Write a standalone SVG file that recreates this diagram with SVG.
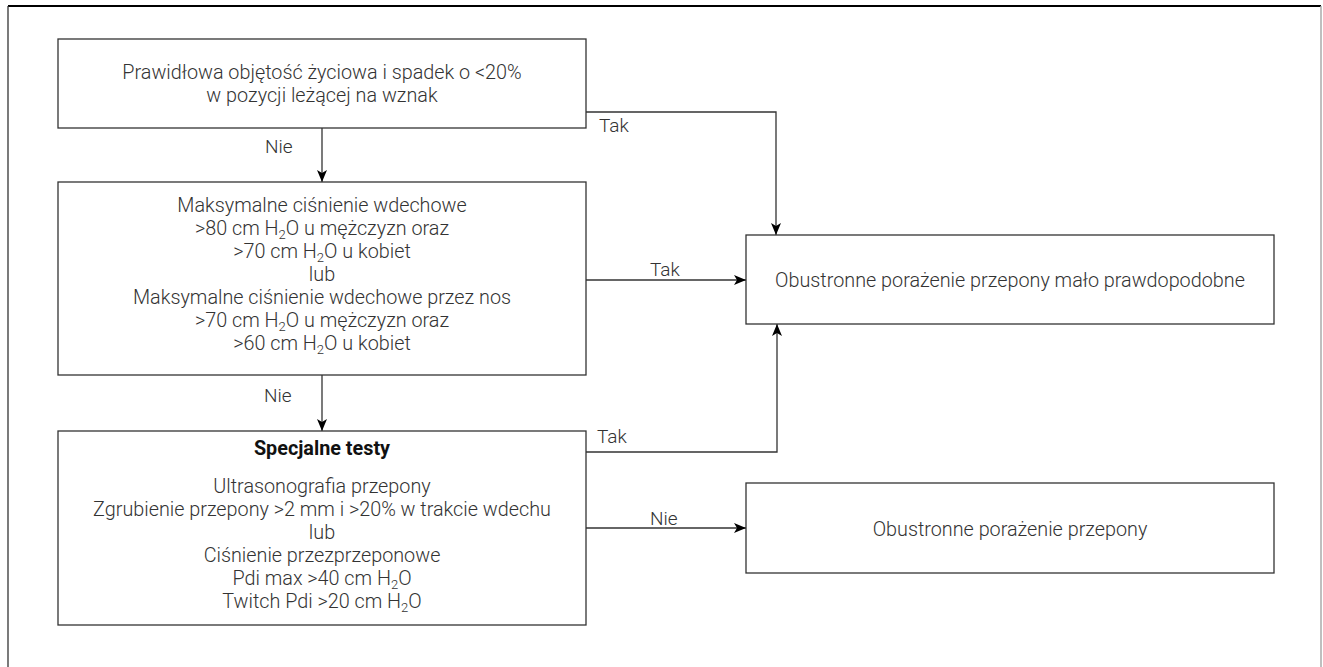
<svg xmlns="http://www.w3.org/2000/svg" width="1323" height="667" viewBox="0 0 1323 667">
  <defs>
    <style>
      .box { fill: #ffffff; stroke: #333333; stroke-width: 1.3; }
      .t { font-family: Roboto, "Liberation Sans", sans-serif; font-weight: 300; font-size: 19.8px; fill: #333333; text-anchor: middle; }
      .lbl { font-family: Roboto, "Liberation Sans", sans-serif; font-weight: 300; font-size: 19px; fill: #333333; }
      .b { font-weight: 700; fill: #111111; }
      .sub { font-size: 13px; }
      .c { fill: none; stroke: #333333; stroke-width: 1.3; }
    </style>
    <marker id="arr" viewBox="0 0 12 10" refX="12" refY="5" markerWidth="12" markerHeight="10" markerUnits="userSpaceOnUse" orient="auto">
      <path d="M0,0 L12,5 L0,10 L3,5 Z" fill="#000000"/>
    </marker>
  </defs>

  <g id="frame">
    <line x1="8" y1="6" x2="1321" y2="6" stroke="#000000" stroke-width="2"/>
    <line x1="8" y1="6" x2="8" y2="667" stroke="#333333" stroke-width="1.3"/>
    <line x1="1321" y1="6" x2="1321" y2="667" stroke="#aaaaaa" stroke-width="1.5"/>
  </g>

  <g id="connectors">
    <line class="c" x1="322" y1="128" x2="322" y2="182" marker-end="url(#arr)"/>
    <text class="lbl" x="265" y="153">Nie</text>
    <polyline class="c" points="586,112 776,112 776,235" marker-end="url(#arr)"/>
    <text class="lbl" x="599" y="132">Tak</text>
    <line class="c" x1="586" y1="280" x2="746" y2="280" marker-end="url(#arr)"/>
    <text class="lbl" x="650" y="276">Tak</text>
    <line class="c" x1="322" y1="375" x2="322" y2="431" marker-end="url(#arr)"/>
    <text class="lbl" x="264" y="402">Nie</text>
    <polyline class="c" points="586,452 777,452 777,324" marker-end="url(#arr)"/>
    <text class="lbl" x="597" y="443">Tak</text>
    <line class="c" x1="586" y1="528" x2="746" y2="528" marker-end="url(#arr)"/>
    <text class="lbl" x="650" y="525">Nie</text>
  </g>

  <g id="n1">
    <rect class="box" x="58" y="39" width="528" height="89"/>
    <text class="t" x="322" y="79">Prawidłowa objętość życiowa i spadek o &lt;20%</text>
    <text class="t" x="322" y="102">w pozycji leżącej na wznak</text>
  </g>

  <g id="n2">
    <rect class="box" x="58" y="182" width="528" height="193"/>
    <text class="t" x="322" y="212">Maksymalne ciśnienie wdechowe</text>
    <text class="t" x="322" y="235">&gt;80 cm H<tspan class="sub" dy="4">2</tspan><tspan dy="-4">O u mężczyzn oraz</tspan></text>
    <text class="t" x="322" y="258">&gt;70 cm H<tspan class="sub" dy="4">2</tspan><tspan dy="-4">O u kobiet</tspan></text>
    <text class="t" x="322" y="281">lub</text>
    <text class="t" x="322" y="304">Maksymalne ciśnienie wdechowe przez nos</text>
    <text class="t" x="322" y="327">&gt;70 cm H<tspan class="sub" dy="4">2</tspan><tspan dy="-4">O u mężczyzn oraz</tspan></text>
    <text class="t" x="322" y="350">&gt;60 cm H<tspan class="sub" dy="4">2</tspan><tspan dy="-4">O u kobiet</tspan></text>
  </g>

  <g id="n3">
    <rect class="box" x="58" y="431" width="528" height="194"/>
    <text class="t b" x="322" y="455">Specjalne testy</text>
    <text class="t" x="322" y="493">Ultrasonografia przepony</text>
    <text class="t" x="322" y="516">Zgrubienie przepony &gt;2 mm i &gt;20% w trakcie wdechu</text>
    <text class="t" x="322" y="539">lub</text>
    <text class="t" x="322" y="562">Ciśnienie przezprzeponowe</text>
    <text class="t" x="322" y="585">Pdi max &gt;40 cm H<tspan class="sub" dy="4">2</tspan><tspan dy="-4">O</tspan></text>
    <text class="t" x="322" y="608">Twitch Pdi &gt;20 cm H<tspan class="sub" dy="4">2</tspan><tspan dy="-4">O</tspan></text>
  </g>

  <g id="n4">
    <rect class="box" x="746" y="235" width="528" height="89"/>
    <text class="t" x="1010" y="287">Obustronne porażenie przepony mało prawdopodobne</text>
  </g>

  <g id="n5">
    <rect class="box" x="746" y="483" width="528" height="90"/>
    <text class="t" x="1010" y="536">Obustronne porażenie przepony</text>
  </g>
</svg>
